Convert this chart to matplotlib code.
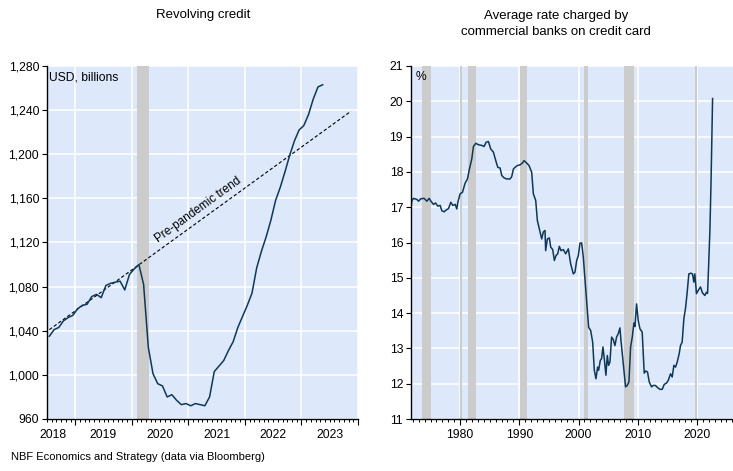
import numpy as np
import pandas as pd
import matplotlib
matplotlib.use("Agg")
import matplotlib.pyplot as plt
from matplotlib.ticker import FuncFormatter

plt.rcParams['font.family'] = ['Liberation Sans', 'DejaVu Sans']

# revolving consumer credit, USD billions, monthly from July 2018
credit_months = pd.period_range('2018-07', periods=59, freq='M')
credit_values = [1035, 1041, 1043, 1049, 1052, 1054, 1060, 1063, 1064, 1071,
                 1073, 1070, 1081, 1083, 1084, 1085, 1077, 1091, 1096, 1100,
                 1082, 1025, 1001, 992, 990, 980, 982, 977, 973, 974,
                 972, 974, 973, 972, 980, 1003, 1008, 1013, 1022, 1030,
                 1043, 1053, 1063, 1074, 1097, 1112, 1125, 1140, 1158, 1170,
                 1184, 1199, 1212, 1222, 1226, 1236, 1250, 1261, 1263]

# straight pre-pandemic trend (start / end month and level)
trend_months = pd.PeriodIndex(['2018-07', '2023-11'], freq='M')
trend_values = [1041, 1239]
credit_recession = (2020.1, 2020.3)
credit_year_labels = [2018, 2019, 2020, 2021, 2022, 2023]

# credit card plan rate at commercial banks, %
rate_years = [1971.75, 1971.84, 1972.13, 1972.69, 1972.97, 1973.36, 1973.93, 1974.38, 1974.77, 1975.11,
              1975.50, 1975.84, 1976.23, 1976.63, 1976.91, 1977.30, 1977.64, 1978.03, 1978.43, 1978.76,
              1979.16, 1979.44, 1979.61, 1980.00, 1980.39, 1980.84, 1981.24, 1981.57, 1981.97, 1982.25,
              1982.64, 1983.09, 1983.66, 1984.05, 1984.39, 1984.78, 1985.17, 1985.62, 1986.02, 1986.36,
              1986.75, 1987.03, 1987.42, 1987.87, 1988.44, 1988.72, 1989.00, 1989.28, 1989.67, 1990.12,
              1990.52, 1990.80, 1991.25, 1991.64, 1992.09, 1992.37, 1992.77, 1993.05, 1993.50, 1993.78,
              1994.06, 1994.34, 1994.45, 1994.74, 1995.07, 1995.30, 1995.64, 1995.92, 1996.20, 1996.48,
              1996.76, 1997.04, 1997.44, 1997.83, 1998.28, 1998.67, 1999.12, 1999.40, 1999.69, 1999.97,
              2000.25, 2000.53, 2000.81, 2001.09, 2001.37, 2001.71, 2002.05, 2002.39, 2002.67, 2002.95,
              2003.23, 2003.40, 2003.68, 2003.90, 2004.13, 2004.35, 2004.63, 2004.86, 2005.08, 2005.31,
              2005.59, 2005.87, 2006.15, 2006.43, 2006.72, 2007.00, 2007.17, 2007.45, 2007.67, 2007.95,
              2008.23, 2008.52, 2008.80, 2009.08, 2009.36, 2009.53, 2009.81, 2010.09, 2010.37, 2010.76,
              2011.10, 2011.38, 2011.66, 2011.95, 2012.34, 2012.62, 2013.01, 2013.35, 2013.75, 2014.14,
              2014.48, 2014.87, 2015.15, 2015.55, 2015.83, 2016.11, 2016.39, 2016.67, 2017.01, 2017.23,
              2017.51, 2017.80, 2018.08, 2018.36, 2018.64, 2018.98, 2019.26, 2019.48, 2019.65, 2019.93,
              2020.21, 2020.61, 2020.95, 2021.34, 2021.62, 2021.80, 2021.95, 2022.20, 2022.40, 2022.65]
rate_values = [17.05, 17.19, 17.25, 17.22, 17.17, 17.24, 17.25, 17.17, 17.25, 17.16,
               17.08, 17.12, 17.03, 17.05, 16.90, 16.87, 16.92, 16.96, 17.14, 17.05,
               17.08, 16.95, 17.14, 17.38, 17.42, 17.68, 17.80, 18.08, 18.37, 18.72,
               18.81, 18.77, 18.75, 18.72, 18.84, 18.86, 18.65, 18.56, 18.32, 18.13,
               18.11, 17.90, 17.83, 17.80, 17.80, 17.87, 18.08, 18.13, 18.18, 18.20,
               18.25, 18.32, 18.25, 18.18, 17.99, 17.38, 17.19, 16.62, 16.30, 16.10,
               16.30, 16.34, 15.77, 16.10, 16.13, 15.87, 15.80, 15.49, 15.63, 15.68,
               15.89, 15.77, 15.80, 15.68, 15.82, 15.40, 15.11, 15.16, 15.49, 15.63,
               15.98, 15.99, 15.58, 14.97, 14.36, 13.60, 13.51, 13.18, 12.38, 12.14,
               12.47, 12.38, 12.66, 12.71, 13.04, 12.71, 12.24, 12.80, 12.52, 12.61,
               13.32, 13.25, 13.08, 13.32, 13.42, 13.58, 13.23, 12.75, 12.38, 11.91,
               11.95, 12.05, 13.04, 13.32, 13.72, 13.62, 14.26, 13.79, 13.56, 13.46,
               12.30, 12.36, 12.33, 12.05, 11.91, 11.95, 11.95, 11.89, 11.84, 11.84,
               11.98, 12.02, 12.09, 12.28, 12.19, 12.52, 12.47, 12.61, 12.85, 13.08,
               13.18, 13.84, 14.14, 14.59, 15.11, 15.13, 15.11, 14.88, 15.11, 14.55,
               14.64, 14.74, 14.57, 14.50, 14.59, 14.56, 15.20, 16.35, 17.80, 20.08]

# US recessions, shaded
recessions = [(1973.55, 1975.15), (1979.9, 1980.4), (1981.3, 1982.75),
              (1990.15, 1991.25), (2000.95, 2001.6), (2007.7, 2009.35),
              (2019.7, 2019.97)]

BG = '#dde9fb'
BAR = '#cccccc'
LINE = '#0e3857'
FS = 8.7


def frac_year(months):
    return np.asarray(months.year + (months.month - 1) / 12 + 1 / 24, dtype=float)


def style_axes(ax):
    ax.set_facecolor(BG)
    for side in ['top', 'right']:
        ax.spines[side].set_visible(False)
    for side in ['left', 'bottom']:
        ax.spines[side].set_linewidth(1.0)
        ax.spines[side].set_zorder(5)
    ax.set_axisbelow(True)
    ax.grid(True, which='major', color='white', linewidth=1.1)
    ax.tick_params(axis='both', which='major', labelsize=FS, direction='out', width=0.8, color='black')
    ax.tick_params(axis='y', which='major', length=3.6, pad=2)
    ax.tick_params(axis='x', which='major', length=4.5)
    ax.tick_params(axis='x', which='minor', length=2.2, width=0.7)


fig = plt.figure(figsize=(7.33, 4.71), dpi=100)
ax1 = fig.add_axes([47 / 733, 1 - 419 / 471, 311 / 733, 353 / 471])
ax2 = fig.add_axes([411 / 733, 1 - 419 / 471, 322 / 733, 353 / 471])

# --- left: revolving credit ---
style_axes(ax1)
ax1.set_xlim(2018.5, 2024.0)
ax1.set_ylim(960, 1280)
ax1.set_yticks(np.arange(960, 1281, 40))
ax1.yaxis.set_major_formatter(FuncFormatter(lambda v, p: f'{int(v):,}'))
ax1.set_xticks(np.arange(2019, 2025))
ax1.set_xticklabels([])
ax1.set_xticks(np.arange(2018.5, 2024.001, 1 / 12), minor=True)
ax1.axvspan(*credit_recession, color=BAR, lw=0, zorder=1)

tx = frac_year(trend_months)
ax1.plot(tx, trend_values, color='black', lw=0.8, linestyle=(0, (3, 2)), zorder=3)
ax1.plot(frac_year(credit_months), credit_values, color=LINE, lw=1.1, zorder=4)

for yr in credit_year_labels:
    xpos = yr + 0.5 if yr > 2018 else 2018.6
    ax1.annotate(str(yr), xy=(xpos, 0), xycoords=('data', 'axes fraction'),
                 xytext=(0, -7.5), textcoords='offset points',
                 ha='center', va='top', fontsize=FS)

# label along the trend line
p0 = ax1.transData.transform((tx[0], trend_values[0]))
p1 = ax1.transData.transform((tx[1], trend_values[1]))
angle = np.degrees(np.arctan2(p1[1] - p0[1], p1[0] - p0[0]))
lx = 2020.5
ly = trend_values[0] + (trend_values[1] - trend_values[0]) * (lx - tx[0]) / (tx[1] - tx[0])
ax1.text(lx, ly + 4, 'Pre-pandemic trend', rotation=angle, rotation_mode='anchor',
         ha='left', va='bottom', fontsize=8.5, zorder=6)
ax1.text(0.008, 0.985, 'USD, billions', transform=ax1.transAxes,
         ha='left', va='top', fontsize=FS)

# --- right: credit card rate ---
style_axes(ax2)
ax2.set_xlim(1971.7, 2026.1)
ax2.set_ylim(11, 21)
ax2.set_yticks(np.arange(11, 22, 1))
ax2.set_xticks([1980, 1990, 2000, 2010, 2020])
ax2.set_xticks(np.arange(1972, 2027), minor=True)
ax2.tick_params(axis='x', which='major', pad=3)
for start, end in recessions:
    ax2.axvspan(start, end, color=BAR, lw=0, zorder=1)
ax2.plot(rate_years, rate_values, color=LINE, lw=1.1, zorder=4)
ax2.text(0.015, 0.985, '%', transform=ax2.transAxes, ha='left', va='top', fontsize=FS)

# titles and source
fig.text(203 / 733, 1 - 15 / 471, 'Revolving credit', ha='center', va='center', fontsize=9.5)
fig.text(556 / 733, 1 - 24 / 471, 'Average rate charged by\ncommercial banks on credit card',
         ha='center', va='center', fontsize=9.5, linespacing=1.4)
fig.text(11 / 733, 1 - 457 / 471, 'NBF Economics and Strategy (data via Bloomberg)',
         ha='left', va='center', fontsize=8)

fig.savefig('out.png', dpi=100)
